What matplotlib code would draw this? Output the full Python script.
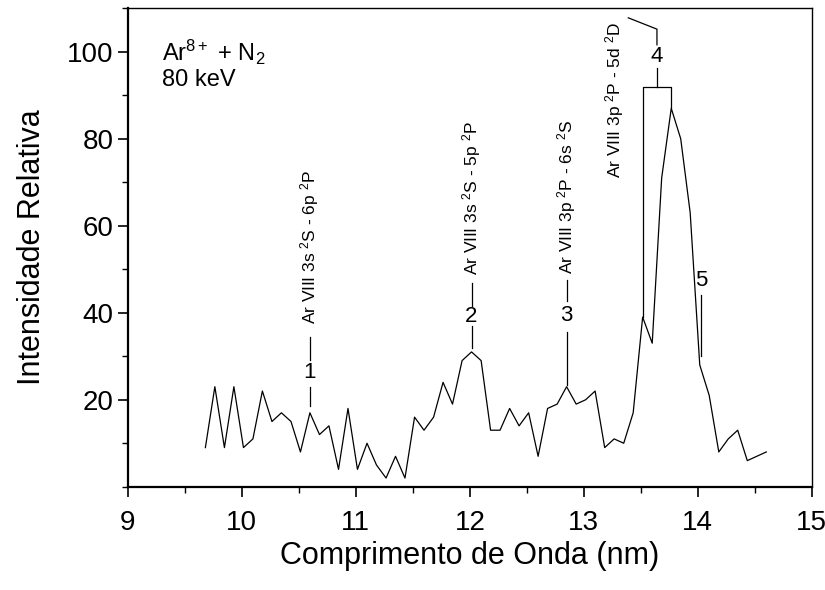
# ----- Ar8+ + N2 spectrum -----
import matplotlib
matplotlib.use("Agg")
import matplotlib.pyplot as plt
from matplotlib.ticker import MultipleLocator

plt.rcParams['font.family'] = ['Liberation Sans', 'DejaVu Sans']
plt.rcParams['mathtext.fontset'] = 'custom'
plt.rcParams['mathtext.rm'] = 'Liberation Sans'
plt.rcParams['mathtext.it'] = 'Liberation Sans:italic'

# ----- Data -----
wavelength = [9.680, 9.763, 9.847, 9.930, 10.014, 10.097, 10.180, 10.264, 10.347, 10.431,
              10.514, 10.597, 10.681, 10.764, 10.848, 10.931, 11.014, 11.098, 11.181, 11.265,
              11.348, 11.431, 11.515, 11.598, 11.682, 11.765, 11.848, 11.932, 12.015, 12.099,
              12.182, 12.265, 12.349, 12.432, 12.516, 12.599, 12.682, 12.766, 12.849, 12.933,
              13.016, 13.099, 13.183, 13.266, 13.350, 13.433, 13.516, 13.600, 13.683, 13.767,
              13.850, 13.933, 14.017, 14.100, 14.184, 14.267, 14.350, 14.434, 14.517, 14.601]
intensity = [9, 23, 9, 23, 9, 11, 22, 15, 17, 15,
             8, 17, 12, 14, 4, 18, 4, 10, 5, 2,
             7, 2, 16, 13, 16, 24, 19, 29, 31, 29,
             13, 13, 18, 14, 17, 7, 18, 19, 23, 19,
             20, 22, 9, 11, 10, 17, 39, 33, 71, 87,
             80, 63, 28, 21, 8, 11, 13, 6, 7, 8]

# line labels: number, x position, transition
line_ids = ["1", "2", "3"]
line_x = [10.597, 12.015, 12.849]
line_names = [r"Ar VIII 3s $^2$S - 6p $^2$P",
              r"Ar VIII 3s $^2$S - 5p $^2$P",
              r"Ar VIII 3p $^2$P - 6s $^2$S"]
line4_name = r"Ar VIII 3p $^2$P - 5d $^2$D"

fig, ax = plt.subplots(figsize=(8.25, 5.9), dpi=100)
fig.subplots_adjust(left=0.155, right=0.984, top=0.986, bottom=0.175)

ax.plot(wavelength, intensity, color="black", lw=0.9)

# ----- Labels 1-3 -----
# (bottom of lower line, top of lower line, number y, upper line start, upper line end, text start)
lab_y = [(18.5, 23.0, 26.3, 29.2, 34.5, 37.5),
         (32.0, 37.0, 39.2, 41.6, 46.9, 48.7),
         (23.5, 35.5, 39.3, 42.8, 47.6, 49.0)]
for i in range(3):
    x = line_x[i]
    y0, y1, yn, y2, y3, yt = lab_y[i]
    ax.plot([x, x], [y0, y1], color="black", lw=0.9)
    ax.text(x, yn, line_ids[i], ha="center", va="center", fontsize=16)
    ax.plot([x, x], [y2, y3], color="black", lw=0.9)
    ax.text(x, yt, line_names[i], rotation=90, ha="center", va="bottom", fontsize=12.5)

# ----- Label 4 (bracket over the main peak) -----
xl, xr = wavelength[46], wavelength[49]
xc = (xl + xr) / 2
ax.plot([xl, xl, xr, xr], [intensity[46], 92, 92, intensity[49]], color="black", lw=0.9)
ax.plot([xc, xc], [92, 96.3], color="black", lw=0.9)
ax.text(xc, 99.0, "4", ha="center", va="center", fontsize=16)
ax.plot([xc, xc, 13.39], [101.6, 105.2, 107.8], color="black", lw=0.9)
ax.text(13.27, 71, line4_name, rotation=90, ha="center", va="bottom", fontsize=12.5)

# ----- Label 5 -----
ax.plot([14.03, 14.03], [30.1, 44.1], color="black", lw=0.9)
ax.text(14.03, 47.5, "5", ha="center", va="center", fontsize=16)

# ----- Reaction text -----
ax.text(0.05, 0.908, r"Ar$^{8+}$ + N$_2$", transform=ax.transAxes, fontsize=17, va="center")
ax.text(0.05, 0.85, "80 keV", transform=ax.transAxes, fontsize=17, va="center")

# ----- Axes -----
ax.set_xlim(9, 15)
ax.set_ylim(0, 110)
ax.xaxis.set_major_locator(MultipleLocator(1))
ax.xaxis.set_minor_locator(MultipleLocator(0.5))
ax.yaxis.set_minor_locator(MultipleLocator(10))
ax.set_yticks([20, 40, 60, 80, 100])
ax.tick_params(which="major", direction="out", length=7, width=1.2, labelsize=20)
ax.tick_params(which="minor", direction="out", length=4, width=1.0)
ax.tick_params(axis="x", which="major", pad=10)

for side in ["left", "bottom"]:
    ax.spines[side].set_linewidth(1.6)
for side in ["top", "right"]:
    ax.spines[side].set_linewidth(1.0)

ax.set_xlabel("Comprimento de Onda (nm)", fontsize=22, labelpad=3)
ax.set_ylabel("Intensidade Relativa", fontsize=22, labelpad=14)

fig.savefig("out.png", dpi=100)
